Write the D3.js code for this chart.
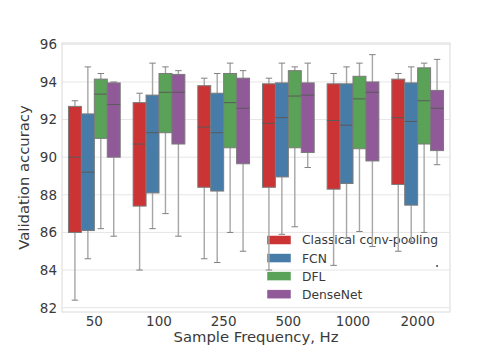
<!DOCTYPE html>
<html>
<head>
  <meta charset="utf-8">
  <script src="https://cdn.jsdelivr.net/npm/d3@7/dist/d3.min.js"></script>
  <style>
    body { margin: 0; background: #fff; }
    text { font-family: "DejaVu Sans", sans-serif; fill: #3a3a3a; }
  </style>
</head>
<body>
  <svg width="500" height="357"></svg>
  <script>
    // stats per frequency: [whisker low, q1, median, q3, whisker high]
    const frequencies = ['50', '100', '250', '500', '1000', '2000'];
    const models = ['Classical conv-pooling', 'FCN', 'DFL', 'DenseNet'];
    const colors = ['#cb3335', '#477ca8', '#59a257', '#905998'];

    const classical = [
      [82.4, 86.0, 90.0, 92.7, 93.0],
      [84.0, 87.4, 90.7, 92.9, 93.4],
      [84.6, 88.4, 91.6, 93.8, 94.2],
      [84.0, 88.4, 91.8, 93.9, 94.2],
      [84.25, 88.3, 91.95, 93.9, 94.45],
      [85.0, 88.55, 92.1, 94.15, 94.45]
    ];
    const fcn = [
      [84.6, 86.1, 89.2, 92.3, 94.8],
      [86.2, 88.1, 91.3, 93.3, 95.0],
      [84.4, 88.2, 91.3, 93.4, 94.45],
      [85.9, 88.95, 92.1, 93.95, 95.0],
      [85.7, 88.6, 91.7, 93.9, 94.8],
      [85.5, 87.45, 91.9, 93.95, 94.8]
    ];
    const dfl = [
      [86.2, 91.0, 93.35, 94.15, 94.45],
      [87.0, 91.3, 93.45, 94.45, 94.8],
      [86.0, 90.5, 92.9, 94.45, 95.0],
      [86.3, 90.5, 93.25, 94.6, 94.8],
      [86.05, 90.45, 93.1, 94.3, 95.0],
      [86.0, 90.7, 93.0, 94.75, 95.0]
    ];
    const densenet = [
      [85.8, 90.0, 92.8, 93.95, 94.0],
      [85.8, 90.7, 93.45, 94.4, 94.6],
      [85.0, 89.65, 92.6, 94.2, 94.6],
      [89.45, 90.25, 93.3, 93.95, 95.0],
      [85.25, 89.8, 93.45, 94.0, 95.45],
      [89.6, 90.35, 92.6, 93.55, 95.2]
    ];
    const statsByModel = [classical, fcn, dfl, densenet];
    // outliers: [frequency, model index, value]
    const outliers = [['2000', 3, 84.22]];
    const yTicks = [82, 84, 86, 88, 90, 92, 94, 96];

    const svg = d3.select('svg');
    const margin = { top: 43, right: 50, bottom: 45, left: 62 };
    const width = 500 - margin.left - margin.right;
    const height = 357 - margin.top - margin.bottom;

    const g = svg.append('g').attr('transform', `translate(${margin.left},${margin.top})`);

    const x = d3.scaleBand().domain(frequencies).range([0, width])
      .paddingInner(0.2).paddingOuter(0.1);
    const xs = d3.scaleBand().domain(d3.range(models.length)).range([0, x.bandwidth()]);
    const y = d3.scaleLinear().domain([81.77, 96.07]).range([height, 0]);

    // grid
    g.append('g')
      .selectAll('line')
      .data(yTicks)
      .join('line')
      .attr('x1', 0).attr('x2', width)
      .attr('y1', d => y(d)).attr('y2', d => y(d))
      .attr('stroke', '#e6e6e6').attr('stroke-width', 1);

    // frame
    g.append('rect')
      .attr('width', width).attr('height', height)
      .attr('fill', 'none').attr('stroke', '#e0e0e0').attr('stroke-width', 1.2);

    // y tick labels
    g.append('g')
      .selectAll('text')
      .data(yTicks)
      .join('text')
      .attr('x', -5).attr('y', d => y(d))
      .attr('dy', '0.36em')
      .attr('text-anchor', 'end')
      .style('font-size', '13.5px')
      .text(d => d);

    // x tick labels
    g.append('g')
      .selectAll('text')
      .data(frequencies)
      .join('text')
      .attr('x', d => x(d) + x.bandwidth() / 2)
      .attr('y', height + 14)
      .attr('text-anchor', 'middle')
      .style('font-size', '13.5px')
      .text(d => d);

    // axis titles
    g.append('text')
      .attr('x', width / 2).attr('y', height + 30)
      .attr('text-anchor', 'middle')
      .style('font-size', '14.8px')
      .text('Sample Frequency, Hz');

    svg.append('text')
      .attr('transform', `translate(29,${margin.top + height / 2}) rotate(-90)`)
      .attr('text-anchor', 'middle')
      .style('font-size', '14.8px')
      .text('Validation accuracy');

    // legend (no frame, drawn under the boxes)
    const legend = g.append('g').attr('transform', 'translate(205,197)');
    const row = legend.selectAll('g')
      .data(models)
      .join('g')
      .attr('transform', (d, i) => `translate(0,${i * 18.1})`);
    row.append('rect')
      .attr('x', 0).attr('y', -4.5)
      .attr('width', 24).attr('height', 9)
      .attr('fill', (d, i) => colors[i])
      .attr('stroke', '#fff').attr('stroke-width', 0.5);
    row.append('text')
      .attr('x', 35).attr('dy', '0.36em')
      .style('font-size', '12.3px')
      .text(d => d);

    // boxes
    const boxData = [];
    frequencies.forEach((f, fi) => {
      models.forEach((m, mi) => {
        const s = statsByModel[mi][fi];
        boxData.push({ f, mi, lo: s[0], q1: s[1], med: s[2], q3: s[3], hi: s[4] });
      });
    });

    const bw = xs.bandwidth();
    const boxes = g.append('g')
      .selectAll('g')
      .data(boxData)
      .join('g')
      .attr('transform', d => `translate(${x(d.f) + xs(d.mi)},0)`);

    // whiskers
    boxes.append('line')
      .attr('x1', bw / 2).attr('x2', bw / 2)
      .attr('y1', d => y(d.q1)).attr('y2', d => y(d.lo))
      .attr('stroke', '#a6a6a6').attr('stroke-width', 1.4);
    boxes.append('line')
      .attr('x1', bw / 2).attr('x2', bw / 2)
      .attr('y1', d => y(d.q3)).attr('y2', d => y(d.hi))
      .attr('stroke', '#a6a6a6').attr('stroke-width', 1.4);
    // caps
    boxes.append('line')
      .attr('x1', bw / 4).attr('x2', bw * 3 / 4)
      .attr('y1', d => y(d.lo)).attr('y2', d => y(d.lo))
      .attr('stroke', '#808080').attr('stroke-width', 1);
    boxes.append('line')
      .attr('x1', bw / 4).attr('x2', bw * 3 / 4)
      .attr('y1', d => y(d.hi)).attr('y2', d => y(d.hi))
      .attr('stroke', '#808080').attr('stroke-width', 1);
    // box
    boxes.append('rect')
      .attr('x', 0).attr('width', bw)
      .attr('y', d => y(d.q3))
      .attr('height', d => y(d.q1) - y(d.q3))
      .attr('fill', d => colors[d.mi])
      .attr('stroke', '#7a7a7a').attr('stroke-width', 1);
    // median
    boxes.append('line')
      .attr('x1', 0).attr('x2', bw)
      .attr('y1', d => y(d.med)).attr('y2', d => y(d.med))
      .attr('stroke', '#5a5a5a').attr('stroke-width', 1);

    // outliers
    g.append('g')
      .selectAll('circle')
      .data(outliers)
      .join('circle')
      .attr('cx', d => x(d[0]) + xs(d[1]) + bw / 2)
      .attr('cy', d => y(d[2]))
      .attr('r', 1)
      .attr('fill', '#444');
  </script>
</body>
</html>
